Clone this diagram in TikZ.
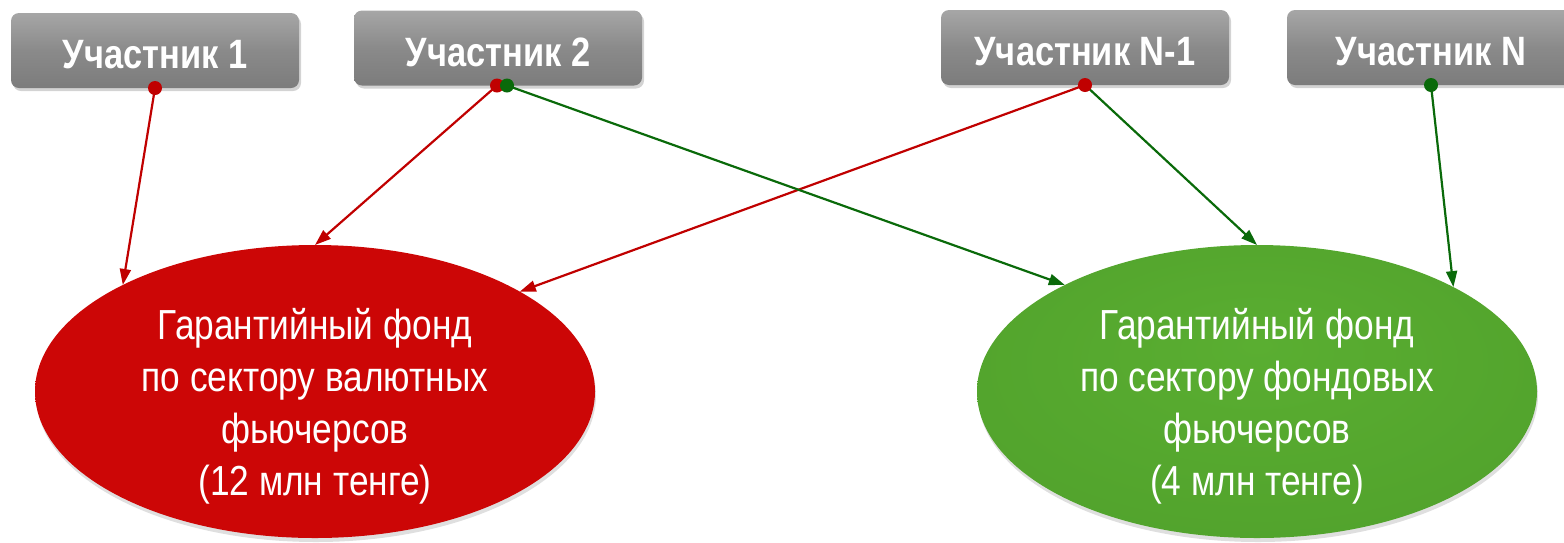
\documentclass[tikz,border=0pt]{standalone}
\usepackage{fontspec}
\setmainfont{Liberation Sans}[FakeStretch=0.84]
\usetikzlibrary{arrows.meta,shapes.geometric,shadows,calc}
\definecolor{boxtop}{HTML}{A6A6A6}
\definecolor{boxmid}{HTML}{8A8A8A}
\definecolor{boxbot}{HTML}{7C7C7C}
\definecolor{redA}{HTML}{CC0606}
\definecolor{redB}{HTML}{C20404}
\definecolor{redC}{HTML}{8E0000}
\definecolor{greenA}{HTML}{5AAE31}
\definecolor{greenB}{HTML}{4E9E2A}
\definecolor{greenC}{HTML}{357A1C}
\definecolor{arrred}{HTML}{C00000}
\definecolor{arrgreen}{HTML}{0A6A0A}
\pgfdeclareradialshading{redball}{\pgfpoint{0bp}{0bp}}{color(0bp)=(redA); color(44bp)=(redA); color(48.5bp)=(redB); color(50bp)=(redC)}
\pgfdeclareradialshading{greenball}{\pgfpoint{0bp}{8bp}}{color(0bp)=(greenA); color(44bp)=(greenB); color(49bp)=(greenB); color(52bp)=(greenC)}
\newcommand{\lowtext}[1]{\raisebox{-4pt}[\height][\depth]{#1}}
\tikzset{
  pbox/.style={rounded corners=8pt, minimum width=288pt, minimum height=75pt,
    inner sep=0pt, outer sep=0pt, top color=boxtop, bottom color=boxbot, middle color=boxmid,
    drop shadow={opacity=0.35, shadow xshift=2pt, shadow yshift=-3pt},
    text=white, font=\fontsize{41}{46}\selectfont\bfseries},
  fund/.style={ellipse, minimum width=560pt, minimum height=293pt, inner sep=0pt, outer sep=0pt,
    drop shadow={opacity=0.25, shadow xshift=1pt, shadow yshift=-4pt}},
  fundtext/.style={align=center, text=white, font=\fontsize{42}{52}\selectfont, inner sep=0pt},
  redarr/.style={draw=arrred, line width=2.2pt, -{Triangle[length=16pt,width=11pt]}},
  greenarr/.style={draw=arrgreen, line width=2.2pt, -{Triangle[length=16pt,width=11pt]}},
  reddot/.style={fill=arrred},
  greendot/.style={fill=arrgreen}
}
\begin{document}
\begin{tikzpicture}[x=1pt, y=-1pt]
\useasboundingbox (0,0) rectangle (1564,542);
% participants
\node[pbox] (p1) at (155,50.5) {\lowtext{Участник 1}};
\node[pbox] (p2) at (498,48) {\lowtext{Участник 2}};
\node[pbox] (pn1) at (1085,47.5) {\lowtext{Участник N-1}};
\node[pbox] (pn) at (1431,47.5) {\lowtext{Участник N}};
% funds
\node[fund, shading=redball] (fr) at (315,391.5) {};
\node[fund, shading=greenball] (fg) at (1257,391.5) {};
\node[fundtext] (tr) at ([yshift=-15pt]fr.center) {Гарантийный фонд\\по сектору валютных\\фьючерсов\\(12 млн тенге)};
\node[fundtext] (tg) at ([yshift=-15pt]fg.center) {Гарантийный фонд\\по сектору фондовых\\фьючерсов\\(4 млн тенге)};
% start points
\coordinate (s1) at (p1.south);
\coordinate (s2r) at ([xshift=-1pt]p2.south);
\coordinate (s2g) at ([xshift=9pt]p2.south);
\coordinate (sn1) at (pn1.south);
\coordinate (sn) at (pn.south);
% connectors
\draw[redarr] (s1) -- (fr.151.8);
\draw[redarr] (s2r) -- (fr.90);
\draw[redarr] (sn1) -- (fr.26.9);
\draw[greenarr] (s2g) -- (fg.151.8);
\draw[greenarr] (sn1) -- (fg.90);
\draw[greenarr] (sn) -- (fg.28.7);
% dots
\fill[reddot] (s1) circle (7);
\fill[reddot] (s2r) circle (7);
\fill[greendot] (s2g) circle (7);
\fill[reddot] (sn1) circle (7);
\fill[greendot] (sn) circle (7);
\end{tikzpicture}
\end{document}
